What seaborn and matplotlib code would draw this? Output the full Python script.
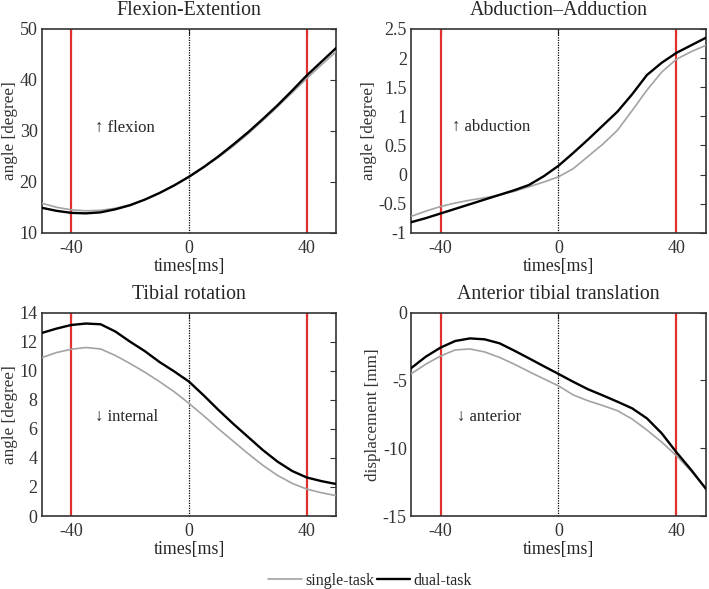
import numpy as np
import pandas as pd
import matplotlib
matplotlib.use("Agg")
import matplotlib.pyplot as plt
import seaborn as sns
from matplotlib.lines import Line2D

sns.set_style("white")
plt.rcParams['font.family'] = ['Liberation Serif', 'DejaVu Serif']

times = [-50, -45, -40, -35, -30, -25, -20, -15, -10, -5, 0, 5, 10, 15, 20, 25, 30, 35, 40, 45, 50]

flex_dual = [14.9, 14.3, 13.9, 13.8, 14.0, 14.6, 15.4, 16.5, 17.8, 19.3, 21.0, 22.9, 25.0, 27.3, 29.7, 32.3, 35.0, 37.9, 40.9, 43.6, 46.3]
flex_single = [15.8, 15.0, 14.5, 14.3, 14.4, 14.8, 15.5, 16.5, 17.8, 19.3, 20.9, 22.8, 24.8, 27.0, 29.4, 32.0, 34.7, 37.5, 40.3, 43.0, 45.6]

abd_dual = [-0.82, -0.75, -0.67, -0.59, -0.51, -0.43, -0.35, -0.27, -0.18, -0.03, 0.15, 0.37, 0.60, 0.84, 1.08, 1.38, 1.71, 1.92, 2.09, 2.22, 2.35]
abd_single = [-0.72, -0.63, -0.55, -0.49, -0.44, -0.40, -0.35, -0.29, -0.21, -0.13, -0.04, 0.10, 0.31, 0.52, 0.76, 1.10, 1.45, 1.76, 1.98, 2.11, 2.22]

rot_dual = [12.6, 12.9, 13.15, 13.25, 13.2, 12.7, 12.0, 11.35, 10.6, 9.95, 9.25, 8.3, 7.3, 6.35, 5.45, 4.55, 3.75, 3.1, 2.65, 2.4, 2.2]
rot_single = [10.9, 11.25, 11.48, 11.6, 11.5, 11.05, 10.5, 9.9, 9.25, 8.55, 7.75, 6.9, 6.0, 5.15, 4.3, 3.5, 2.8, 2.25, 1.85, 1.6, 1.4]

trans_dual = [-4.1, -3.25, -2.58, -2.09, -1.9, -1.97, -2.26, -2.8, -3.37, -3.95, -4.52, -5.1, -5.65, -6.1, -6.57, -7.06, -7.8, -8.9, -10.3, -11.6, -13.0]
trans_single = [-4.52, -3.8, -3.2, -2.75, -2.68, -2.9, -3.3, -3.8, -4.35, -4.88, -5.4, -6.07, -6.5, -6.85, -7.23, -7.85, -8.66, -9.55, -10.55, -11.7, -12.96]

titles = ["Flexion-Extention", "Abduction\u2013Adduction", "Tibial rotation", "Anterior tibial translation"]
ylabels = ["angle [degree]", "angle [degree]", "angle [degree]", "displacement [mm]"]
ylims = [(10, 50), (-1, 2.5), (0, 14), (-15, 0)]
yticks = [[10, 20, 30, 40, 50], [-1, -0.5, 0, 0.5, 1, 1.5, 2, 2.5], [0, 2, 4, 6, 8, 10, 12, 14], [-15, -10, -5, 0]]
ytick_labels = [["10", "20", "30", "40", "50"], ["-1", "-0.5", "0", "0.5", "1", "1.5", "2", "2.5"],
                ["0", "2", "4", "6", "8", "10", "12", "14"], ["-15", "-10", "-5", "0"]]
notes = ["\u2191 flexion", "\u2191 abduction", "\u2193 internal", "\u2193 anterior"]
note_pos = [(-32, 30.6), (-36, 0.82), (-32, 6.85), (-34.5, -7.7)]
events = [-40, 40]
xticks = [-40, 0, 40]

series = [(flex_single, flex_dual), (abd_single, abd_dual), (rot_single, rot_dual), (trans_single, trans_dual)]

fig = plt.figure(figsize=(7.09, 5.89), dpi=100)
positions = [
    [0.0588, 0.6049, 0.4156, 0.3459],
    [0.5797, 0.6049, 0.4160, 0.3459],
    [0.0588, 0.1239, 0.4156, 0.3453],
    [0.5797, 0.1239, 0.4160, 0.3453],
]

for i in range(4):
    ax = fig.add_axes(positions[i])
    s, d = series[i]
    df = pd.DataFrame({
        "time": times + times,
        "value": s + d,
        "task": ["single-task"] * len(times) + ["dual-task"] * len(times),
    })
    for ev in events:
        ax.axvline(ev, color="#e0312f", lw=1.6, zorder=1)
    ax.axvline(0, color="black", lw=0.9, ls=(0, (1, 1)), zorder=1)
    sns.lineplot(data=df, x="time", y="value", hue="task", size="task",
                 palette={"single-task": "#a3a3a3", "dual-task": "black"},
                 sizes={"single-task": 1.2, "dual-task": 1.7},
                 legend=False, ax=ax, zorder=3)
    ax.set_xlim(-50, 50)
    ax.set_ylim(*ylims[i])
    ax.set_xticks(xticks)
    ax.set_xticklabels(["-40", "0", "40"])
    ax.set_yticks(yticks[i])
    ax.set_yticklabels(ytick_labels[i])
    ax.tick_params(direction="in", top=True, right=True, length=4, width=0.8,
                   labelsize=13, colors="#333333", pad=3)
    ax.tick_params(axis="x", pad=5)
    for sp in ax.spines.values():
        sp.set_color("#333333")
        sp.set_linewidth(1.2)
        sp.set_visible(True)
    ax.set_title(titles[i], fontsize=14.3, pad=10)
    ax.set_xlabel("times[ms]", fontsize=12.8, labelpad=1)
    ax.set_ylabel(ylabels[i], fontsize=12.3, color="#333333", labelpad=1)
    ax.text(note_pos[i][0], note_pos[i][1], notes[i], fontsize=12,
            family=['Liberation Serif', 'DejaVu Sans'], va="center", ha="left")

handles = [Line2D([], [], color="#a3a3a3", lw=1.2), Line2D([], [], color="black", lw=1.7)]
fig.legend(handles, ["single-task", "dual-task"], loc="center", bbox_to_anchor=(0.522, 0.0136),
           ncol=2, frameon=False, fontsize=11.5, handlelength=2.1, columnspacing=0.15, handletextpad=0.2)

fig.savefig("out.png", dpi=100)
